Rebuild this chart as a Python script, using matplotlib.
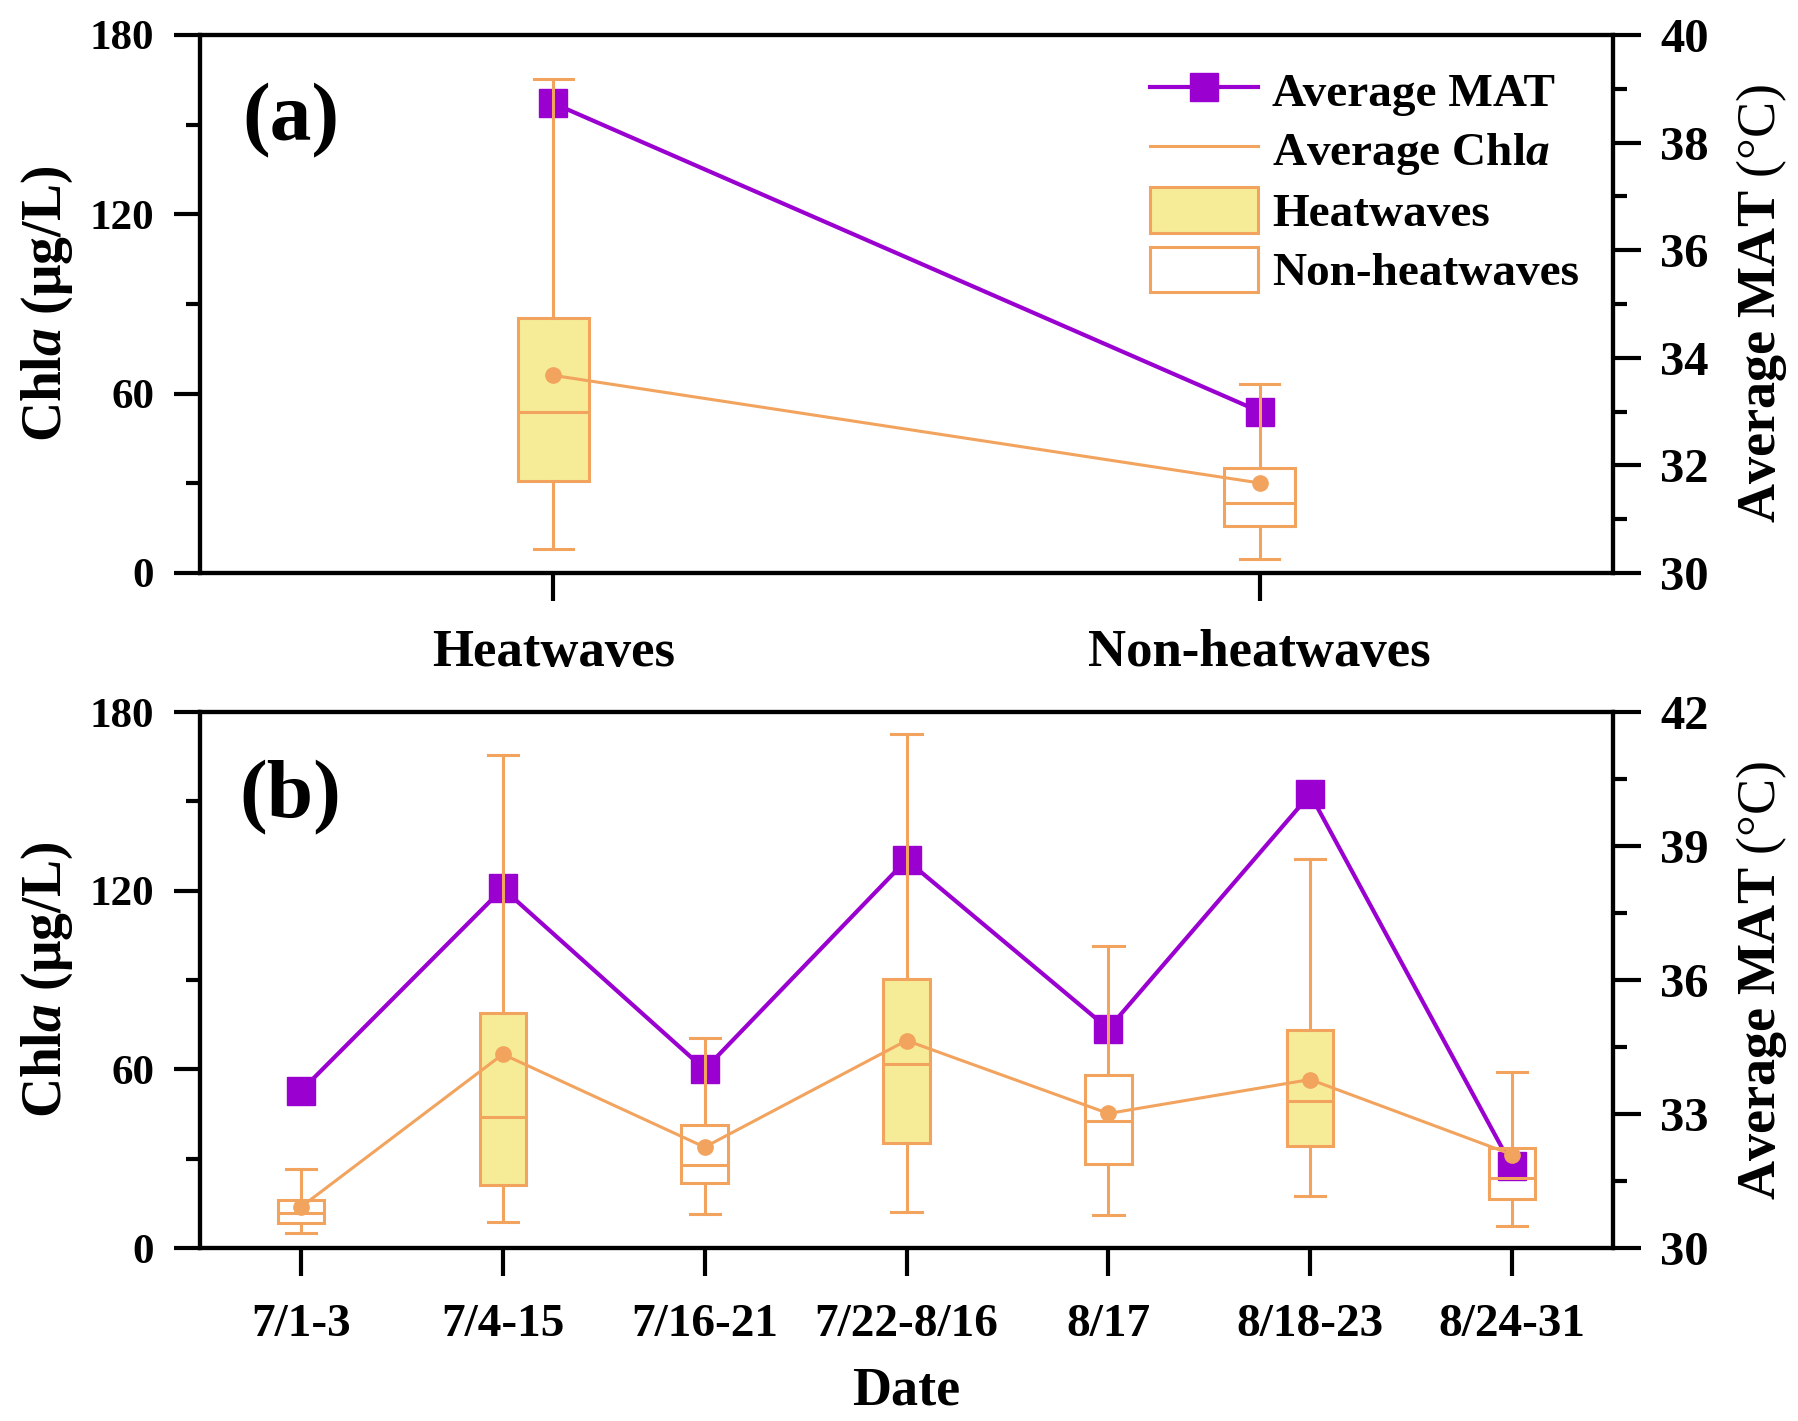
import matplotlib
matplotlib.use('Agg')
import matplotlib.pyplot as plt
from matplotlib.lines import Line2D
from matplotlib.patches import Patch
from matplotlib.ticker import MultipleLocator

plt.rcParams['font.family'] = ['Liberation Serif', 'DejaVu Serif']
plt.rcParams['font.weight'] = 'bold'
plt.rcParams['axes.labelweight'] = 'bold'
plt.rcParams['mathtext.fontset'] = 'custom'
plt.rcParams['mathtext.it'] = 'Liberation Serif:italic:bold'
plt.rcParams['mathtext.rm'] = 'Liberation Serif:regular'
plt.rcParams['axes.linewidth'] = 3

PURPLE = '#9A00D0'
ORANGE = '#F2A35E'
YELLOW = '#F6EC98'

# panel (a): heatwaves vs non-heatwaves
groups_a = ['Heatwaves', 'Non-heatwaves']
heat_a = [True, False]
q1_a = [30.8, 15.7]
med_a = [53.8, 23.5]
q3_a = [85.3, 35.0]
lo_a = [8.0, 4.7]
hi_a = [165.3, 63.1]
mean_a = [66.1, 30.1]
mat_a = [38.73, 33.0]

# panel (b): by date
dates_b = ['7/1-3', '7/4-15', '7/16-21', '7/22-8/16', '8/17', '8/18-23', '8/24-31']
heat_b = [False, True, False, True, False, True, False]
q1_b = [8.3, 21.2, 22.0, 35.3, 28.2, 34.2, 16.6]
med_b = [11.7, 44.1, 28.0, 61.7, 42.7, 49.5, 23.4]
q3_b = [16.2, 78.9, 41.4, 90.4, 58.2, 73.2, 33.7]
lo_b = [5.1, 8.7, 11.4, 12.1, 11.1, 17.5, 7.3]
hi_b = [26.4, 165.5, 70.4, 172.7, 101.3, 130.5, 59.0]
mean_b = [13.8, 65.1, 33.9, 69.7, 45.2, 56.6, 31.4]
mat_b = [33.52, 38.05, 34.0, 38.69, 34.91, 40.16, 31.83]


def draw_panel(ax, labels, heat, q1, med, q3, lo, hi, mean, mat,
               width, capw, mat_lim, mat_step, xsize, tag):
    x = list(range(len(labels)))
    stats = [dict(med=m, q1=a, q3=b, whislo=l, whishi=h, fliers=[], label=s)
             for s, a, m, b, l, h in zip(labels, q1, med, q3, lo, hi)]
    lp = dict(color=ORANGE, linewidth=2.2)
    bp = ax.bxp(stats, positions=x, widths=width, capwidths=capw,
                patch_artist=True, showfliers=False,
                boxprops=dict(edgecolor=ORANGE, linewidth=2.2),
                medianprops=lp, whiskerprops=lp, capprops=lp)
    for box, hw in zip(bp['boxes'], heat):
        box.set_facecolor(YELLOW if hw else 'none')
    ax.plot(x, mean, color=ORANGE, lw=2.2, marker='o', ms=11, zorder=4)

    # MAT on the twin axis, kept beneath the boxes
    ax2 = ax.twinx()
    ax2.plot(x, mat, color=PURPLE, lw=3, marker='s', ms=20)
    ax.set_zorder(ax2.get_zorder() + 1)
    ax.patch.set_visible(False)

    ax.set_xlim(-0.5, len(labels) - 0.5)
    ax.set_ylim(0, 180)
    ax.yaxis.set_major_locator(MultipleLocator(60))
    ax.yaxis.set_minor_locator(MultipleLocator(30))
    ax2.set_ylim(*mat_lim)
    ax2.yaxis.set_major_locator(MultipleLocator(mat_step))
    ax2.yaxis.set_minor_locator(MultipleLocator(mat_step / 2))

    ax.set_xticks(x)
    ax.set_xticklabels(labels)
    ax.tick_params(axis='x', length=20, width=3, labelsize=xsize, pad=20)
    ax.tick_params(axis='y', which='major', length=19, width=3, labelsize=31, pad=14)
    ax.tick_params(axis='y', which='minor', length=10, width=3)
    ax2.tick_params(axis='y', which='major', length=20, width=3, labelsize=35, pad=14)
    ax2.tick_params(axis='y', which='minor', length=10, width=3)

    ax.set_ylabel(r'Chl$\mathit{a}$ (μg/L)', fontsize=40, va='center')
    ax.yaxis.set_label_coords(-0.108, 0.5)
    ax2.set_ylabel(r'Average MAT $\mathrm{(°C)}$', fontsize=39, va='center', rotation=90)
    ax2.yaxis.set_label_coords(1.105, 0.5)
    ax.text(0.064, 0.84, tag, transform=ax.transAxes, fontsize=60,
            ha='center', va='center')
    return ax2


fig = plt.figure(figsize=(17.99, 14.21), dpi=100)
ax_a = fig.add_axes([0.1112, 0.5968, 0.7854, 0.3786])
ax_b = fig.add_axes([0.1112, 0.1217, 0.7854, 0.3772])

draw_panel(ax_a, groups_a, heat_a, q1_a, med_a, q3_a, lo_a, hi_a, mean_a, mat_a,
           0.1, 0.055, (30, 40), 2, 38, '(a)')
draw_panel(ax_b, dates_b, heat_b, q1_b, med_b, q3_b, lo_b, hi_b, mean_b, mat_b,
           0.23, 0.15, (30, 42), 3, 34, '(b)')

ax_b.set_xlabel('Date', fontsize=39, va='baseline')
ax_b.xaxis.set_label_coords(0.5, -0.292)

handles = [
    Line2D([], [], color=PURPLE, lw=3, marker='s', ms=20),
    Line2D([], [], color=ORANGE, lw=2.2),
    Patch(facecolor=YELLOW, edgecolor=ORANGE, linewidth=2.2),
    Patch(facecolor='white', edgecolor=ORANGE, linewidth=2.2),
]
names = ['Average MAT', r'Average Chl$\mathit{a}$', 'Heatwaves', 'Non-heatwaves']
ax_a.legend(handles, names, loc='upper left', bbox_to_anchor=(0.672, 0.94),
            frameon=False, fontsize=34, borderpad=0, borderaxespad=0,
            handlelength=2.3, handleheight=1.1, handletextpad=0.3,
            labelspacing=0.22)

fig.savefig('out.png', dpi=100)
